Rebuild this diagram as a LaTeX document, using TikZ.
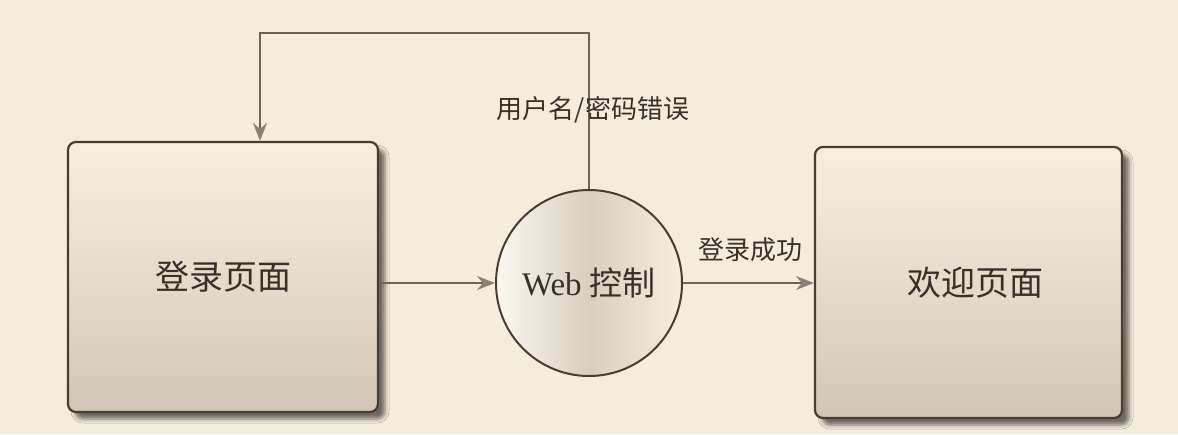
\documentclass[tikz,border=0pt]{standalone}
\usepackage{fontspec}
\setmainfont{Liberation Serif}
\newfontfamily\cjk{Noto Sans CJK SC}
\usetikzlibrary{arrows.meta,shadows.blur}
\definecolor{bg}{HTML}{F4EDDC}
\definecolor{edge}{HTML}{4A3C30}
\definecolor{conn}{HTML}{6E6358}
\definecolor{tipc}{HTML}{8A8078}
\definecolor{boxtop}{HTML}{F6EFDF}
\definecolor{boxbot}{HTML}{D0C6B3}
\definecolor{txt}{HTML}{3A302A}
\tikzset{
  pagebox/.style={draw=edge, line width=2.2pt, rounded corners=8pt,
    top color=boxtop, bottom color=boxbot, middle color=boxtop!55!boxbot,
    blur shadow={shadow xshift=7pt, shadow yshift=-7pt, shadow blur radius=4pt, shadow opacity=55},
    font=\cjk\fontsize{34}{38}\selectfont, text=txt, inner sep=0pt},
  ctrl/.style={circle, draw=edge, line width=2pt, left color=white!60!boxtop, right color=boxtop,
    middle color=boxbot!85!white, shading angle=90, inner sep=0pt,
    minimum size=186pt, text=txt},
  conn/.style={draw=conn, line width=1.6pt},
  arr/.style={conn, -{Stealth[length=18pt, width=14pt, inset=6pt, color=tipc]}},
  lbl/.style={font=\cjk\fontsize{26}{30}\selectfont, text=txt}
}
\begin{document}
\begin{tikzpicture}[x=1pt,y=-1pt]
\fill[bg] (0,0) rectangle (1178,434);
\useasboundingbox (0,0) rectangle (1178,434);
\node[pagebox, minimum width=310pt, minimum height=270pt] (login) at (223,277) {登录页面};
\node[pagebox, minimum width=307pt, minimum height=271pt] (welcome) at (968.5,282.5) {\hspace*{14pt}欢迎页面};
\node[ctrl] (web) at (589,283) {\fontsize{33}{36}\selectfont Web {\cjk 控制}};
\coordinate (t1) at (589,33);
\coordinate (t2) at (260,33);
\draw[arr] (web.north) -- (t1) -- (t2) -- (t2 |- login.north);
\draw[arr] (login.east |- web.west) -- (web.west);
\draw[arr] (web.east) -- (web.east -| welcome.west);
\node[lbl, inner sep=0pt] (err) at (593,110) {用户名/密码错误};
\node[lbl, inner sep=0pt] (ok) at (750,250) {登录成功};
\end{tikzpicture}
\end{document}
